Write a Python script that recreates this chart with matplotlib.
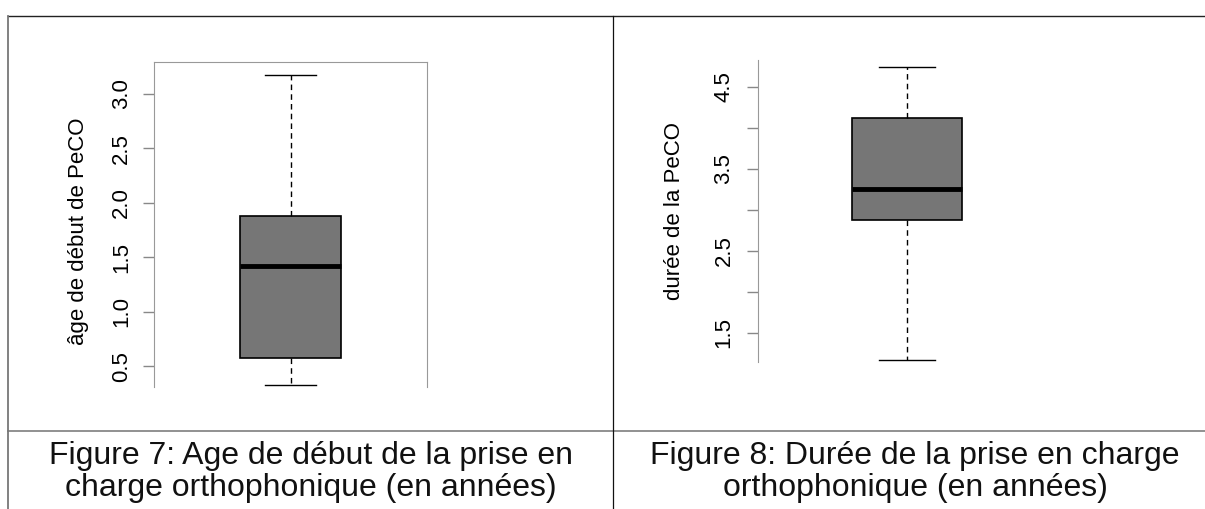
import matplotlib
matplotlib.use("Agg")
import matplotlib.pyplot as plt
from matplotlib.lines import Line2D

plt.rcParams['font.family'] = ['Liberation Sans', 'DejaVu Sans']

# five-number summaries
age_stats = [0.33, 0.58, 1.42, 1.876, 3.17]      # whislo, q1, med, q3, whishi
duree_stats = [1.16, 2.874, 3.25, 4.126, 4.75]

age_ticks = [0.5, 1.0, 1.5, 2.0, 2.5, 3.0]
age_labels = ['0.5', '1.0', '1.5', '2.0', '2.5', '3.0']
duree_ticks = [1.5, 2.0, 2.5, 3.0, 3.5, 4.0, 4.5]
duree_labels = ['1.5', '', '2.5', '', '3.5', '', '4.5']

age_ylabel = 'âge de début de PeCO'
duree_ylabel = 'durée de la PeCO'
captions = ['Figure 7: Age de début de la prise en\ncharge orthophonique (en années)',
            'Figure 8: Durée de la prise en charge\northophonique (en années)']

W, H = 1205, 509
fig = plt.figure(figsize=(W / 100, H / 100), dpi=100)


def px_axes(x0, y0, x1, y1):
    # pixel box (from top-left) -> figure axes
    return fig.add_axes([x0 / W, 1 - y1 / H, (x1 - x0) / W, (y1 - y0) / H])


def draw_box(ax, s):
    st = [dict(whislo=s[0], q1=s[1], med=s[2], q3=s[3], whishi=s[4], fliers=[])]
    ax.bxp(st, positions=[1], widths=0.37, capwidths=0.185, patch_artist=True,
           boxprops=dict(facecolor='#767676', edgecolor='black', linewidth=1.2),
           medianprops=dict(color='black', linewidth=3.5),
           whiskerprops=dict(color='black', linestyle=(0, (4, 3)), linewidth=1),
           capprops=dict(color='black', linewidth=1))
    ax.set_xlim(0.5, 1.5)
    ax.set_xticks([])
    ax.set_facecolor('none')


# left panel
ax1 = px_axes(154, 62, 427, 387)
draw_box(ax1, age_stats)
ax1.set_ylim(0.31, 3.29)
ax1.set_yticks(age_ticks)
ax1.set_yticklabels(age_labels, rotation=90, va='center')
ax1.spines['bottom'].set_visible(False)
for sp in ['top', 'left', 'right']:
    ax1.spines[sp].set_color('#999999')
ax1.tick_params(axis='y', length=8, width=1, color='#888888', labelsize=16, pad=8)
ax1.set_ylabel(age_ylabel, fontsize=16)
ax1.yaxis.set_label_coords(-0.275, 0.48)
ax1.yaxis.label.set_va('center')

# right panel
ax2 = px_axes(758, 60, 1056, 362)
draw_box(ax2, duree_stats)
ax2.set_ylim(1.14, 4.83)
ax2.set_yticks(duree_ticks)
ax2.set_yticklabels(duree_labels, rotation=90, va='center')
for sp in ['top', 'right', 'bottom']:
    ax2.spines[sp].set_visible(False)
ax2.spines['left'].set_color('#999999')
ax2.tick_params(axis='y', length=8, width=1, color='#888888', labelsize=16, pad=9)
ax2.set_ylabel(duree_ylabel, fontsize=16)
ax2.yaxis.set_label_coords(-0.279, 0.5)
ax2.yaxis.label.set_va('center')

# table borders
def hline(y, x0, x1, color, lw):
    fig.add_artist(Line2D([x0 / W, x1 / W], [1 - y / H, 1 - y / H], color=color, linewidth=lw))


def vline(x, y0, y1, color, lw):
    fig.add_artist(Line2D([x / W, x / W], [1 - y0 / H, 1 - y1 / H], color=color, linewidth=lw))


hline(15.5, 8, W, '#222222', 1.0)
hline(431, 8, W, '#888888', 1.3)
vline(8.3, 15.5, H, '#777777', 1.3)
vline(613, 15.5, H, '#111111', 0.9)

fig.text(311 / W, 1 - 472 / H, captions[0], ha='center', va='center',
         fontsize=23, linespacing=1.1, color='#111111')
fig.text(915 / W, 1 - 472 / H, captions[1], ha='center', va='center',
         fontsize=23, linespacing=1.1, color='#111111')

fig.savefig('out.png', dpi=100)
